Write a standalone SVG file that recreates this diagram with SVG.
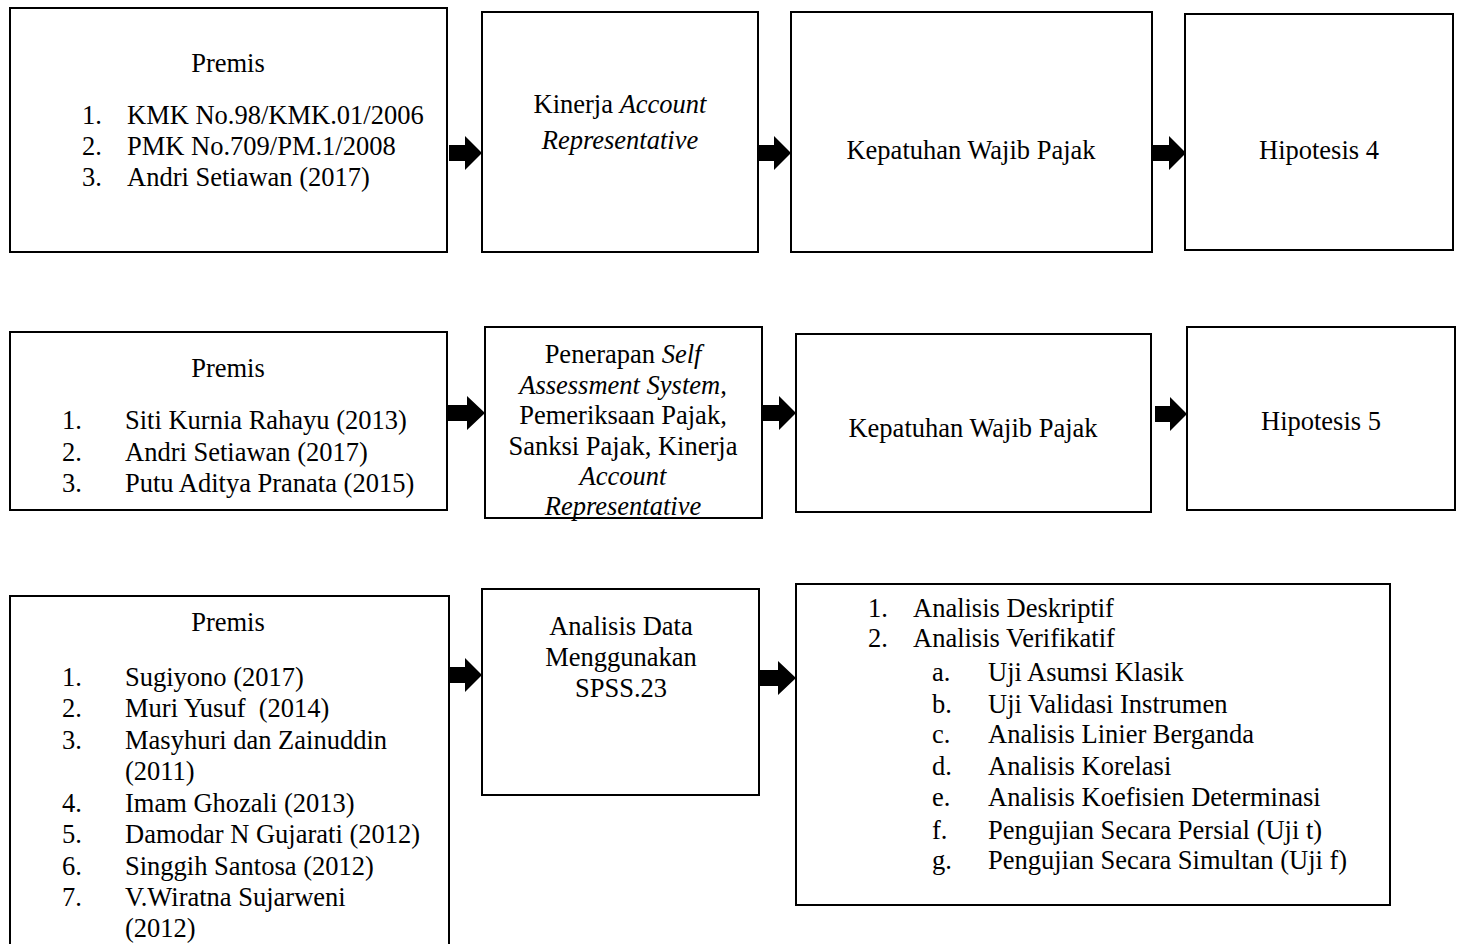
<svg xmlns="http://www.w3.org/2000/svg" width="1461" height="944" viewBox="0 0 1461 944">
<style>
.box{fill:#fff;stroke:#000;stroke-width:2}
text{font-family:"Liberation Serif","Times New Roman",serif;font-size:26.5px;fill:#000}
.c{text-anchor:middle}
.i{font-style:italic}
.arr{fill:#000;stroke:none}
</style>
<rect width="1461" height="944" fill="#fff"/>

<g id="premis1">
<rect class="box" x="10" y="8" width="437" height="244"/>
<text class="c" x="228" y="72">Premis</text>
<text x="82" y="124">1.</text><text x="127" y="124">KMK No.98/KMK.01/2006</text>
<text x="82" y="155">2.</text><text x="127" y="155">PMK No.709/PM.1/2008</text>
<text x="82" y="186">3.</text><text x="127" y="186">Andri Setiawan (2017)</text>
</g>
<g id="kinerja1">
<rect class="box" x="482" y="12" width="276" height="240"/>
<text class="c" x="620" y="113">Kinerja <tspan class="i">Account</tspan></text>
<text class="c i" x="620" y="149">Representative</text>
</g>
<g id="kepatuhan1">
<rect class="box" x="791" y="12" width="361" height="240"/>
<text class="c" x="971" y="159">Kepatuhan Wajib Pajak</text>
</g>
<g id="hipotesis4">
<rect class="box" x="1185" y="14" width="268" height="236"/>
<text class="c" x="1319" y="159">Hipotesis 4</text>
</g>

<g id="premis2">
<rect class="box" x="10" y="332" width="437" height="178"/>
<text class="c" x="228" y="377">Premis</text>
<text x="62" y="429">1.</text><text x="125" y="429">Siti Kurnia Rahayu (2013)</text>
<text x="62" y="461">2.</text><text x="125" y="461">Andri Setiawan (2017)</text>
<text x="62" y="492">3.</text><text x="125" y="492">Putu Aditya Pranata (2015)</text>
</g>
<g id="penerapan">
<rect class="box" x="485" y="327" width="277" height="191"/>
<text class="c" x="623" y="363">Penerapan <tspan class="i">Self</tspan></text>
<text class="c" x="623" y="394"><tspan class="i">Assessment System</tspan>,</text>
<text class="c" x="623" y="424">Pemeriksaan Pajak,</text>
<text class="c" x="623" y="455">Sanksi Pajak, Kinerja</text>
<text class="c i" x="623" y="485">Account</text>
<text class="c i" x="623" y="515">Representative</text>
</g>
<g id="kepatuhan2">
<rect class="box" x="796" y="334" width="355" height="178"/>
<text class="c" x="973" y="437">Kepatuhan Wajib Pajak</text>
</g>
<g id="hipotesis5">
<rect class="box" x="1187" y="327" width="268" height="183"/>
<text class="c" x="1321" y="430">Hipotesis 5</text>
</g>

<g id="premis3">
<rect class="box" x="10" y="596" width="439" height="360"/>
<text class="c" x="228" y="631">Premis</text>
<text x="62" y="686">1.</text><text x="125" y="686">Sugiyono (2017)</text>
<text x="62" y="717">2.</text><text x="125" y="717" xml:space="preserve">Muri Yusuf  (2014)</text>
<text x="62" y="749">3.</text><text x="125" y="749">Masyhuri dan Zainuddin</text>
<text x="125" y="780">(2011)</text>
<text x="62" y="812">4.</text><text x="125" y="812">Imam Ghozali (2013)</text>
<text x="62" y="843">5.</text><text x="125" y="843">Damodar N Gujarati (2012)</text>
<text x="62" y="875">6.</text><text x="125" y="875">Singgih Santosa (2012)</text>
<text x="62" y="906">7.</text><text x="125" y="906">V.Wiratna Sujarweni</text>
<text x="125" y="937">(2012)</text>
</g>
<g id="analisis">
<rect class="box" x="482" y="589" width="277" height="206"/>
<text class="c" x="621" y="635">Analisis Data</text>
<text class="c" x="621" y="666">Menggunakan</text>
<text class="c" x="621" y="697">SPSS.23</text>
</g>
<g id="metode">
<rect class="box" x="796" y="584" width="594" height="321"/>
<text x="868" y="617">1.</text><text x="913" y="617">Analisis Deskriptif</text>
<text x="868" y="647">2.</text><text x="913" y="647">Analisis Verifikatif</text>
<text x="932" y="681">a.</text><text x="988" y="681">Uji Asumsi Klasik</text>
<text x="932" y="713">b.</text><text x="988" y="713">Uji Validasi Instrumen</text>
<text x="932" y="743">c.</text><text x="988" y="743">Analisis Linier Berganda</text>
<text x="932" y="775">d.</text><text x="988" y="775">Analisis Korelasi</text>
<text x="932" y="806">e.</text><text x="988" y="806">Analisis Koefisien Determinasi</text>
<text x="932" y="839">f.</text><text x="988" y="839">Pengujian Secara Persial (Uji t)</text>
<text x="932" y="869">g.</text><text x="988" y="869">Pengujian Secara Simultan (Uji f)</text>
</g>

<g id="connectors">
<path class="arr" d="M449,145 H465 V136 L482,153 L465,170 V161 H449 Z"/>
<path class="arr" d="M758,145 H774 V136 L791,153 L774,170 V161 H758 Z"/>
<path class="arr" d="M1152,145 H1169 V136 L1186,153 L1169,170 V161 H1152 Z"/>
<path class="arr" d="M447,405 H467 V396 L485,413 L467,430 V421 H447 Z"/>
<path class="arr" d="M762,405 H779 V396 L796,413 L779,430 V421 H762 Z"/>
<path class="arr" d="M1155,406 H1170 V397 L1187,414 L1170,431 V422 H1155 Z"/>
<path class="arr" d="M449,667 H465 V658 L482,675 L465,692 V683 H449 Z"/>
<path class="arr" d="M759,670 H778 V661 L796,678 L778,695 V686 H759 Z"/>
</g>
</svg>
